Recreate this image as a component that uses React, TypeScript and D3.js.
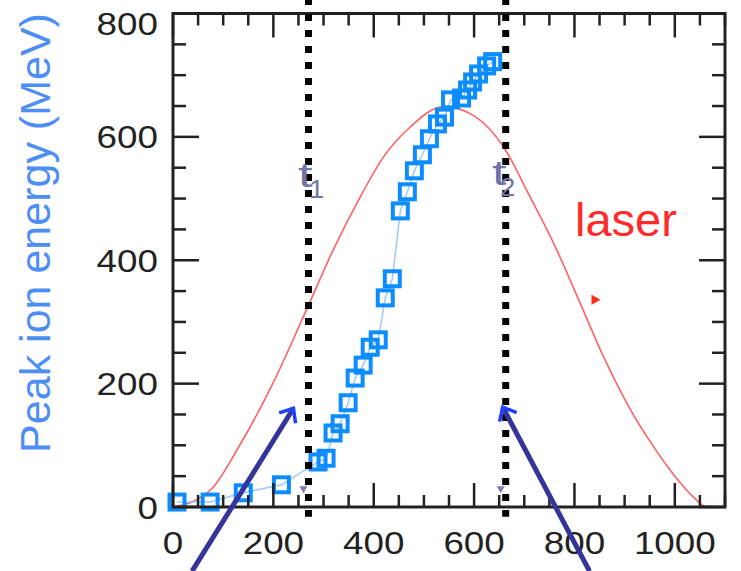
import React from 'react';
import * as d3 from 'd3';

// simulation time vs peak ion energy (blue squares)
const simTime = [8, 74, 140, 216, 289, 305, 319, 333, 349, 363, 379, 393, 409, 423, 437, 453, 467, 481, 497, 511, 527, 541, 553, 575, 587, 597, 609, 625, 637];
const peakEnergy = [8, 8, 23, 36, 73, 79, 120, 135, 169, 209, 230, 259, 271, 339, 370, 480, 511, 545, 571, 597, 621, 632, 660, 663, 676, 689, 702, 715, 722];

// laser envelope (red)
const laserTime = [0, 40, 80, 130, 200, 265, 320, 370, 420, 470, 540, 600, 660, 710, 760, 810, 860, 910, 960, 1000, 1040, 1060, 1100];
const laserAmp = [0, 9, 32, 96, 202, 318, 418, 498, 568, 614, 649, 634, 582, 505, 425, 333, 240, 160, 95, 50, 14, 1, 0];

const xTickLabels = [0, 200, 400, 600, 800, 1000];
const yTickLabels = [0, 200, 400, 600, 800];

// t1 / t2 markers and annotation arrows (data units)
const tMarks = [
  { name: '1', t: 270, tri: 260, lx: 298, sx: 309, by: 187 },
  { name: '2', t: 663, tri: 653, lx: 492, sx: 500, by: 185 },
];
const arrows = [
  { from: [38, -104], to: [240, 160] },
  { from: [830, -104], to: [657, 162] },
];

const W = 741, H = 571;
const FONT = 'Liberation Sans, Arial, Helvetica, sans-serif';
const AXIS = '#222';

export default function App() {
  const x = d3.scaleLinear().domain([0, 1100]).range([173, 725]);
  const y = d3.scaleLinear().domain([0, 800]).range([507, 13.5]);
  const [x0, x1] = x.range();
  const [y0, y1] = y.range();

  const laserLine = d3.line<number>()
    .x((d, i) => x(laserTime[i]))
    .y(d => y(d))
    .curve(d3.curveMonotoneX)(laserAmp);

  const dataLine = d3.line<number>()
    .x((d, i) => x(simTime[i]))
    .y(d => y(d))(peakEnergy);

  const xMinor = d3.range(0, 1101, 50);
  const yMinor = d3.range(0, 801, 50);

  const arrowHead = (tip: number[], tail: number[]) => {
    const [tx, ty] = [x(tip[0]), y(tip[1])];
    const ang = Math.atan2(y(tail[1]) - ty, x(tail[0]) - tx);
    const len = 15, spread = (40 * Math.PI) / 180;
    const a = [tx + len * Math.cos(ang - spread), ty + len * Math.sin(ang - spread)];
    const b = [tx + len * Math.cos(ang + spread), ty + len * Math.sin(ang + spread)];
    return `M${a[0]},${a[1]}L${tx},${ty}L${b[0]},${b[1]}`;
  };

  return (
    <svg width={W} height={H} style={{ position: 'absolute', left: 0, top: 0, background: '#fff' }} fontFamily={FONT}>
      <rect width={W} height={H} fill="#fff" />

      {/* laser */}
      <path d={laserLine || ''} fill="none" stroke="#ff6262" strokeWidth={1.6} />
      <path d={`M${x(842) - 4},${y(336) - 5}L${x(842) + 5},${y(336)}L${x(842) - 4},${y(336) + 5}Z`} fill="#ff2a1a" />

      {/* peak ion energy */}
      <path d={dataLine || ''} fill="none" stroke="#9cc9ff" strokeWidth={1.5} />
      {simTime.map((t, i) => (
        <rect key={i} x={x(t) - 7.5} y={y(peakEnergy[i]) - 7.5} width={15} height={15}
          fill="none" stroke="#0d8cff" strokeWidth={4} />
      ))}

      {/* axes box with inward ticks */}
      <rect x={x0} y={y1} width={x1 - x0} height={y0 - y1} fill="none" stroke={AXIS} strokeWidth={3} />
      {xMinor.map(v => {
        const len = v % 200 === 0 ? 24 : 12;
        return (
          <g key={'xt' + v} stroke={AXIS} strokeWidth={2.5}>
            <line x1={x(v)} x2={x(v)} y1={y0} y2={y0 - len} />
            <line x1={x(v)} x2={x(v)} y1={y1} y2={y1 + len} />
          </g>
        );
      })}
      {yMinor.map(v => {
        const len = v % 200 === 0 ? 26 : 13;
        return (
          <g key={'yt' + v} stroke={AXIS} strokeWidth={2.5}>
            <line x1={x0} x2={x0 + len} y1={y(v)} y2={y(v)} />
            <line x1={x1} x2={x1 - len} y1={y(v)} y2={y(v)} />
          </g>
        );
      })}
      {xTickLabels.map(v => (
        <text key={'xl' + v} transform={`translate(${x(v)},554) scale(1.15,1)`} textAnchor="middle"
          fontSize={32} fill="#222">{v}</text>
      ))}
      {yTickLabels.map(v => (
        <text key={'yl' + v} transform={`translate(158,${Math.max(y(v) + 11.5, 35)}) scale(1.15,1)`} textAnchor="end"
          fontSize={32} fill="#222">{v}</text>
      ))}
      <text transform="translate(50,233) rotate(-90)" textAnchor="middle" fontSize={43} fill="#4d8ef5">
        Peak ion energy (MeV)
      </text>
      <text x={575} y={236} fontSize={47} fill="#ff2a2a">laser</text>

      {/* t1 / t2 dotted lines */}
      {tMarks.map(m => (
        <g key={m.name}>
          <line x1={x(m.t)} x2={x(m.t)} y1={y(825)} y2={y(-16)} stroke="#000" strokeWidth={7}
            strokeDasharray="7 9" />
          <path d={`M${x(m.tri) - 4},${y(27) - 4}L${x(m.tri) + 4},${y(27) - 4}L${x(m.tri)},${y(27) + 3}Z`}
            fill="#7c7cb8" />
          <text transform={`translate(${m.lx},${m.by}) scale(1.45,1)`} fontSize={36} fill="#7272aa">t</text>
          <text transform={`translate(${m.sx},${m.by + 11}) scale(1.1,1)`} fontSize={25} fill="#7272aa">{m.name}</text>
        </g>
      ))}

      {/* annotation arrows */}
      {arrows.map((a, i) => (
        <g key={'ar' + i}>
          <line x1={x(a.from[0])} y1={y(a.from[1])} x2={x(a.to[0])} y2={y(a.to[1])}
            stroke="#34349a" strokeWidth={5} />
          <path d={arrowHead(a.to, a.from)} fill="none" stroke="#2040ff" strokeWidth={3.5} />
        </g>
      ))}
    </svg>
  );
}
